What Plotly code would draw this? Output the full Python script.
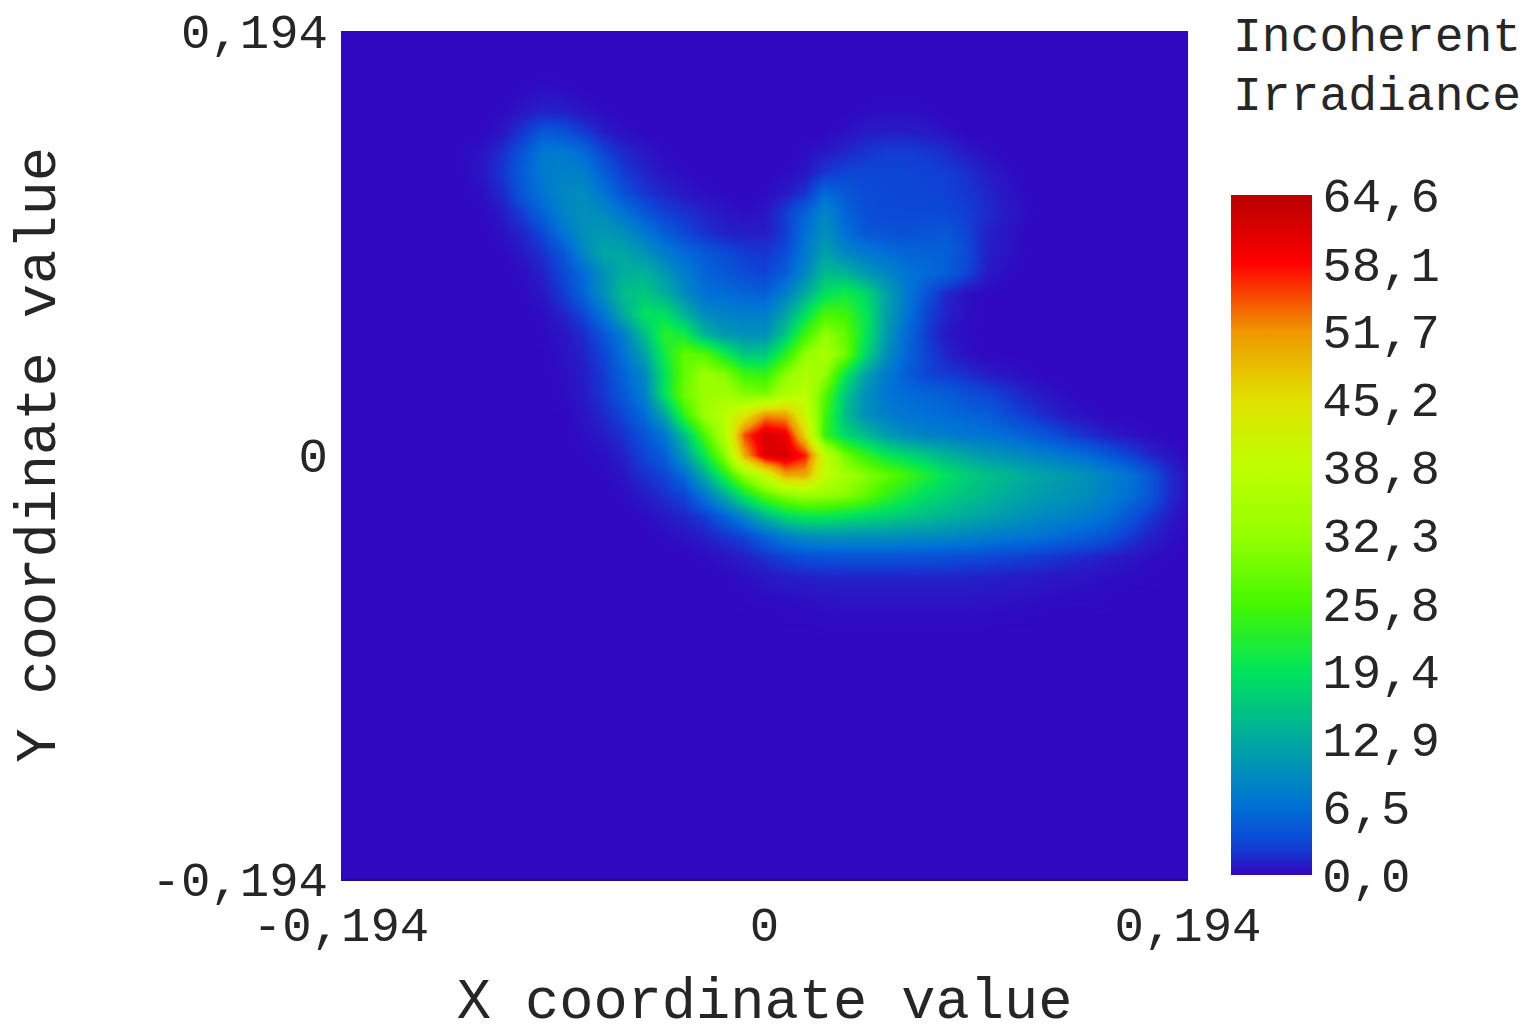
import numpy as np
import plotly.graph_objects as go

# irradiance on a 43x43 grid, top row first.
# each row starts with its run of empty cells, the right end is filled with 0 below
rows = [
    [0],
    [0],
    [0],
    [0]*9 + [.2,.4,.3,.1],
    [0]*8 + [.2,.7,1.3,1.2,.6,.2] + [0]*12 + [.2,.3,.3,.2],
    [0]*7 + [.1,.6,2.3,4.5,4,2.5,1,.4] + [0]*10 + [.4,.9,1,1,.8,.4],
    [0]*6 + [.2,.5,1.8,4.3,7.5,7.5,6,3,1.5,.7,.2] + [0]*6 + [.3,.8,1.4,2.1,2.6,2.6,2.3,1.7,.8,.3],
    [0]*6 + [.1,.7,2.2,5,7.5,8.5,8,5,2.5,1.3,.5,.2] + [0]*4 + [.2,.6,2.2,3,3.2,3.1,3.1,2.9,2.6,1.9,1,.3],
    [0]*7 + [.3,1.5,4.5,7,9,9.5,7,4,2.2,1.4,.7,.3,.1,0,.2,.8,2,6,4.5,3.4,3.2,3.1,3.1,2.9,2.3,1.4,.6,.1],
    [0]*7 + [.1,.8,2.7,5.5,8.5,10,9.5,7,4.5,2.8,2,1.2,.7,.3,.6,2.5,5.5,9,5.5,3.8,3.3,3.3,3.3,3.2,2.7,1.7,.8,.2],
    [0]*8 + [.4,1.4,3.3,6.8,10,11,10,7.5,5,3.2,2,1.2,1,1,2.5,6.5,10,6.5,4.5,4.2,4,4.2,4.5,3,1.2,.6],
    [0]*8 + [.1,.7,2,4.2,8.8,12.5,12.5,10.5,8,6,4.5,3.5,2.5,2.2,3.5,7.5,12,9,7.5,6.5,5.5,5.3,5.2,3.5,1.2,.5,.1],
    [0]*9 + [.3,1.2,3.2,6,10,13.5,14,11,8,5.5,4.5,3.5,3,5,9,15,14,11,9,7,6,5,3,.9,.2],
    [0]*9 + [.1,.7,2.5,5.5,10,15,16,13.5,9.5,6.5,6,5.5,5,8,13,19,21,18,12,7.5,4,1.5,.4],
    [0]*10 + [.3,1.2,3,7,13,19,19,14,9.5,8.5,8,8,12,19,26,25,20,12,7,3,1.2,.3],
    [0]*10 + [.1,.6,1.6,4.2,8,15,23,21,14,11,10,10,16,25,32,28,20,11,6,2.5,.7,.2],
    [0]*11 + [.4,1.2,3,6.5,12,21,28,27,21,16,16.5,23,32,35,29,18,10,5.5,3,1.3,.4],
    [0]*11 + [.3,.9,2.4,5.3,9,19,28,33,31,25,24,31,36,32,20,12,7.5,5,3,2.4,1.8,1,.5,.2],
    [0]*11 + [.2,.8,2.2,4.5,8,19,29,33,34,31,30,36,38,27,16,10,7,6,5.5,5,3.8,3.2,2.2,1.2,.6,.2],
    [0]*12 + [.5,1.5,3,6,12,24,33,38,44,52,51,41,25,15,10,8,7,6.5,6,5.5,5,3.5,2.5,1.5,.8,.3],
    [0]*12 + [.3,.9,2,4,7,15,26,36,55,62,60,46,24,18,15,11.5,9.5,8.5,8,7.3,6.8,6.2,5,4,2.8,1.8,1,.5,.2],
    [0]*12 + [.1,.3,1.1,3,5,11,20,31,50,61,62,57,39,29,24,20,18,16,14,12.5,11,10,9,8,7,6,4.5,3,1.5,.6],
    [0]*13 + [.1,.6,1.9,3,6,13,22,32,40,50,50,39,34,31,28,25,22,19,17,15.5,14.5,13,12,11,10,8.5,7,4.5,1.8,.3],
    [0]*14 + [.2,.9,1.9,3,7,13,20,27,31,33,32,31,28,24,21,18.5,17,15.5,14.5,13,12,11,10.5,9.5,8,6.5,4.5,1.8,.3],
    [0]*15 + [.2,.7,1.4,2.5,5,9,14,18,20,20,19,18,17,16,15,14,13,12,11,10,9,8.5,7.5,6.5,4.5,2.5,1,.1],
    [0]*16 + [.2,.5,1,2,3,5.5,8,9.5,10,10,10,10,9.5,9.5,9,8.5,8,7.5,7,6.5,5.5,5,4,2.5,1.2,.5],
    [0]*18 + [.2,.6,1.1,2,3,3.8,4,4.1,4.1,4.1,4.1,4,3.8,3.6,3.3,3,2.7,2.3,1.9,1.5,1.1,.7,.3,.1],
    [0]*19 + [.1,.3,.7,1,1.2,1.4,1.4,1.4,1.4,1.4,1.4,1.4,1.3,1.2,1,.9,.7,.6,.5,.3,.2,.1],
    [0]*20 + [.1,.2,.3,.4,.5,.6,.6,.6,.6,.6,.6,.6,.5,.5,.4,.3,.2,.2,.1],
    [0]*22 + [.1,.1,.2,.2,.2,.2,.2,.2,.2,.2,.2,.1,.1],
    [0], [0], [0], [0], [0], [0], [0], [0], [0], [0], [0], [0], [0],
]
z = [r + [0]*(43 - len(r)) for r in rows]

x_coord = np.linspace(-0.194, 0.194, 43)
y_coord = np.linspace(0.194, -0.194, 43)

axis_ticks = [-0.194, 0, 0.194]
x_labels = ["-0,194", "0", "0,194"]
y_labels = ["-0,194", "0", "0,194"]

bar_ticks = [0, 6.5, 12.9, 19.4, 25.8, 32.3, 38.8, 45.2, 51.7, 58.1, 64.6]
bar_labels = ["0,0", "6,5", "12,9", "19,4", "25,8", "32,3", "38,8", "45,2", "51,7", "58,1", "64,6"]

scale_colors = [
    [0.0, "rgb(48,8,192)"],
    [0.015, "rgb(38,28,198)"],
    [0.03, "rgb(25,48,206)"],
    [0.05, "rgb(12,72,214)"],
    [0.1, "rgb(0,112,215)"],
    [0.2, "rgb(0,170,160)"],
    [0.3, "rgb(0,228,90)"],
    [0.4, "rgb(70,248,0)"],
    [0.5, "rgb(150,255,0)"],
    [0.6, "rgb(190,255,0)"],
    [0.7, "rgb(225,225,0)"],
    [0.8, "rgb(240,150,0)"],
    [0.9, "rgb(255,0,0)"],
    [1.0, "rgb(185,0,0)"],
]

mono = "Liberation Mono"
ink = "#262626"

fig = go.Figure(go.Heatmap(
    x=x_coord, y=y_coord, z=z,
    zmin=0, zmax=64.6, zsmooth="best",
    colorscale=scale_colors,
    hoverinfo="skip",
    colorbar=dict(
        thicknessmode="pixels", thickness=81,
        lenmode="pixels", len=680,
        x=1.0508, xanchor="left", xpad=0,
        y=0.0047, yanchor="bottom", ypad=0,
        outlinewidth=0,
        tickmode="array", tickvals=bar_ticks, ticktext=bar_labels,
        ticks="outside", ticklen=1, tickcolor="rgba(0,0,0,0)",
        tickfont=dict(family=mono, size=49, color=ink),
    ),
))

# page body keeps its 8px margin, so the figure is 8px smaller and shifted
fig.update_layout(
    width=1525, height=1027,
    margin=dict(l=333, r=345, t=23, b=156, autoexpand=False),
    paper_bgcolor="white", plot_bgcolor="white",
    xaxis=dict(
        range=[-0.194, 0.194], tickmode="array", tickvals=axis_ticks, ticktext=x_labels,
        showgrid=False, zeroline=False, ticks="", ticklabelstandoff=1,
        showline=True, linecolor="#24089a", linewidth=2,
        tickfont=dict(family=mono, size=49, color=ink),
        title=dict(text="X coordinate value", font=dict(family=mono, size=57, color=ink), standoff=28),
    ),
    yaxis=dict(
        range=[-0.194, 0.194], tickmode="array", tickvals=axis_ticks, ticktext=y_labels,
        showgrid=False, zeroline=False, ticks="", ticklabelstandoff=12,
        ticklabeloverflow="allow",
        tickfont=dict(family=mono, size=49, color=ink),
        title=dict(text="Y coordinate value", font=dict(family=mono, size=57, color=ink), standoff=77),
    ),
    annotations=[
        dict(text="Incoherent", xref="paper", yref="paper", x=1.0508, y=0.9917, xanchor="left", yanchor="middle",
             showarrow=False, font=dict(family=mono, size=48, color=ink)),
        dict(text="Irradiance", xref="paper", yref="paper", x=1.0508, y=0.9222, xanchor="left", yanchor="middle",
             showarrow=False, font=dict(family=mono, size=48, color=ink)),
    ],
)

fig.write_html("out.html")
